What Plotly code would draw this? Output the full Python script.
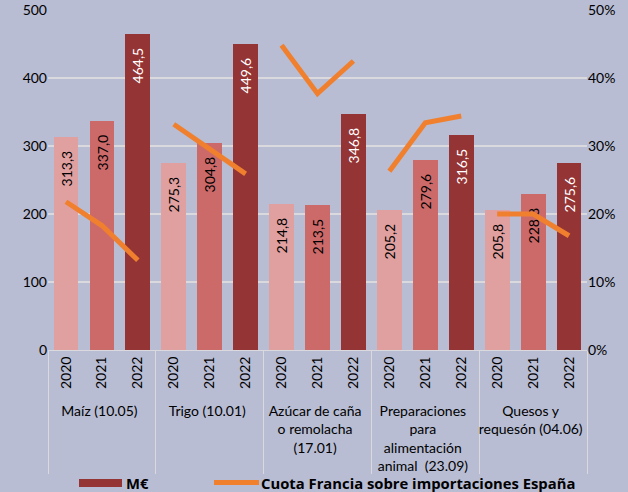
import plotly.graph_objects as go

categories = ["Maíz (10.05)", "Trigo (10.01)", "Azúcar de caña<br>o remolacha<br>(17.01)",
              "Preparaciones<br>para<br>alimentación<br>animal  (23.09)", "Quesos y<br>requesón (04.06)"]
years = ["2020", "2021", "2022"]

# M€ values per category, years 2020..2022
val_maiz = [313.3, 337.0, 464.5]
val_trigo = [275.3, 304.8, 449.6]
val_azucar = [214.8, 213.5, 346.8]
val_prep = [205.2, 279.6, 316.5]
val_quesos = [205.8, 228.8, 275.6]

# Cuota Francia sobre importaciones España (fraction)
share_maiz = [0.218, 0.183, 0.132]
share_trigo = [0.332, 0.296, 0.259]
share_azucar = [0.448, 0.377, 0.425]
share_prep = [0.263, 0.334, 0.344]
share_quesos = [0.200, 0.200, 0.168]

values = [val_maiz, val_trigo, val_azucar, val_prep, val_quesos]
shares = [share_maiz, share_trigo, share_azucar, share_prep, share_quesos]

year_colors = {"2020": "#E0A0A0", "2021": "#CC6A6A", "2022": "#943434"}
text_colors = {"2020": "black", "2021": "black", "2022": "white"}
orange = "#F0802E"
bg = "#B8BDD3"
FONT = "Lato"
NB = "\u00a0"

xc, xy, yv, cols, tcols, txt = [], [], [], [], [], []
for c, vals in zip(categories, values):
    for yr, v in zip(years, vals):
        xc.append(c); xy.append(yr); yv.append(v)
        cols.append(year_colors[yr]); tcols.append(text_colors[yr])
        txt.append(f"{v:.1f}".replace(".", ",") + NB * 3)

fig = go.Figure()
fig.add_trace(go.Bar(
    x=[xc, xy], y=yv, marker=dict(color=cols, line=dict(width=0)),
    width=0.69, text=txt, textposition="inside", insidetextanchor="end",
    textangle=-90, textfont=dict(color=tcols, size=14, family=FONT),
    constraintext="none", showlegend=False, cliponaxis=False,
))
for c, sh in zip(categories, shares):
    fig.add_trace(go.Scatter(
        x=[[c] * 3, years], y=sh, mode="lines", yaxis="y2",
        line=dict(color=orange, width=5), showlegend=False,
    ))

# Legend drawn manually at the bottom
def px(x):
    return (x - 48) / 539

def py(y):
    return (350 - y) / 340

LEG_FONT = dict(size=14.8, family="Open Sans", color="black")
fig.add_shape(type="rect", xref="paper", yref="paper", x0=px(79), x1=px(122),
              y0=py(487), y1=py(479), fillcolor="#943434", line_width=0)
fig.add_shape(type="line", xref="paper", yref="paper", x0=px(214), x1=px(259),
              y0=py(482.5), y1=py(482.5), line=dict(color=orange, width=5))
fig.add_annotation(xref="paper", yref="paper", x=px(124), y=py(483), text="<b>M€</b>",
                   showarrow=False, xanchor="left", yanchor="middle", font=LEG_FONT)
fig.add_annotation(xref="paper", yref="paper", x=px(259), y=py(483),
                   text="<b>Cuota Francia sobre importaciones España</b>",
                   showarrow=False, xanchor="left", yanchor="middle", font=LEG_FONT)

fig.update_layout(
    width=628, height=492,
    margin=dict(l=48, r=41, t=10, b=142, autoexpand=False),
    paper_bgcolor=bg, plot_bgcolor=bg,
    font=dict(family=FONT, size=14, color="black"),
    bargap=0,
    uniformtext=dict(minsize=14, mode="show"),
    xaxis=dict(type="multicategory", tickangle=-90, showgrid=False, automargin=False,
               showline=True, linecolor="#D9D9DE", linewidth=1,
               showdividers=True, dividercolor="#D9D9DE", dividerwidth=1,
               tickfont=dict(size=14, family=FONT), ticks=""),
    yaxis=dict(range=[0, 500], tickvals=[0, 100, 200, 300, 400, 500], automargin=False,
               showgrid=True, gridcolor="#D9D9DE", gridwidth=1.5,
               zeroline=False, ticks="", tickfont=dict(size=14, family=FONT)),
    yaxis2=dict(range=[0, 0.5], overlaying="y", side="right", tickformat=".0%", automargin=False,
                tickvals=[0, 0.1, 0.2, 0.3, 0.4, 0.5], showgrid=False, zeroline=False,
                ticks="", tickfont=dict(size=14, family=FONT)),
)

fig.write_html("out.html", config={"displayModeBar": False},
               post_script="document.body.style.margin='0';")
